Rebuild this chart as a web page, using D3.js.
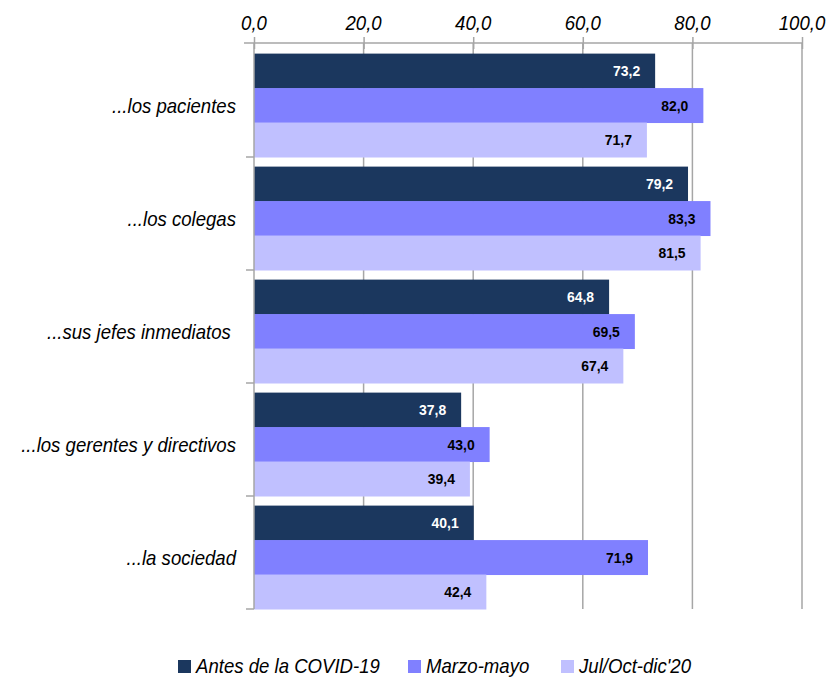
<!DOCTYPE html>
<html><head><meta charset="utf-8">
<script src="https://cdn.jsdelivr.net/npm/d3@7/dist/d3.min.js"></script>
<style>body{margin:0;background:#fff}</style>
</head><body>
<svg id="c" width="834" height="681"></svg>
<script>
const categories = ["...los pacientes","...los colegas","...sus jefes inmediatos ","...los gerentes y directivos","...la sociedad"];
const seriesNames = ["Antes de la COVID-19","Marzo-mayo","Jul/Oct-dic'20"];
const antes = [73.2,79.2,64.8,37.8,40.1];
const marzoMayo = [82.0,83.3,69.5,43.0,71.9];
const julOctDic = [71.7,81.5,67.4,39.4,42.4];
const xTicks = [0,20,40,60,80,100];
const colors = ["#1b375e","#8080ff","#c0c0ff"];
const labelColors = ["#ffffff","#000000","#000000"];
const series = [antes, marzoMayo, julOctDic];

(function(){
const font = "'Liberation Sans Narrow','Arial Narrow','Liberation Sans',Arial,sans-serif";
const svg = d3.select("#c");
const L = 254, R = 802, T = 44, B = 609;
const SX = 0.93;
const x = d3.scaleLinear().domain([0,100]).range([L,R]);
const y = d3.scaleBand().domain(categories).range([T,B]).paddingInner(0.085).paddingOuter(0.0425).align(1);
const y1 = d3.scaleBand().domain([0,1,2]).range([0,y.bandwidth()]);
const fmt = v => d3.format(".1f")(v).replace(".",",");

function txt(parent, px, py, s, opts){
  const t = parent.append("text").attr("transform",`translate(${px},${py}) scale(${SX},1)`)
    .attr("font-family",font).attr("font-size",opts.size).attr("fill",opts.fill||"#000")
    .attr("text-anchor",opts.anchor||"start").attr("dy",opts.dy||"0.36em")
    .style("white-space","pre").text(s);
  if(opts.italic) t.attr("font-style","italic");
  if(opts.bold) t.attr("font-weight","bold");
  return t;
}

svg.append("g").selectAll("line").data(xTicks.slice(1)).join("line")
  .attr("x1",d=>x(d)).attr("x2",d=>x(d)).attr("y1",T-1).attr("y2",B)
  .attr("stroke","#a6a6a6").attr("stroke-width",1.5);

const g = svg.append("g");
categories.forEach((c,i)=>{
  series.forEach((s,j)=>{
    g.append("rect").attr("x",x(0)).attr("y",y(c)+y1(j)).attr("width",x(s[i])-x(0)).attr("height",y1.bandwidth()+0.5)
      .attr("fill",colors[j]);
    txt(g, x(s[i])-15, y(c)+y1(j)+y1.bandwidth()/2, fmt(s[i]), {size:15,bold:true,anchor:"end",fill:labelColors[j]});
  });
});

const xa = svg.append("g").attr("transform",`translate(0,${T-1})`)
  .call(d3.axisTop(x).tickValues(xTicks).tickSize(6).tickFormat(fmt));
xa.select(".domain").attr("stroke","#a6a6a6").attr("stroke-width",1.5).attr("d",`M${L-10},0H${R}`);
xa.selectAll(".tick line").attr("stroke","#a6a6a6").attr("stroke-width",1.5).attr("y1",6).attr("y2",-6);
xa.selectAll(".tick text").remove();
xTicks.forEach(v=>txt(xa, x(v), -13, fmt(v), {size:20,italic:true,anchor:"middle",dy:"0"}));

const ya = svg.append("g").attr("transform",`translate(${L},0)`);
ya.append("line").attr("x1",0).attr("x2",0).attr("y1",T-1).attr("y2",B).attr("stroke","#a6a6a6").attr("stroke-width",1.5);
const bounds = categories.map(c=>y(c)+y.bandwidth());
ya.selectAll("line.t").data(bounds).join("line").attr("class","t")
  .attr("x1",-8).attr("x2",0).attr("y1",d=>d).attr("y2",d=>d).attr("stroke","#a6a6a6").attr("stroke-width",1.5);
categories.forEach(c=>txt(ya, -18, y(c)+y1(1)+y1.bandwidth()/2, c, {size:20,italic:true,anchor:"end"}));

const legX = [178,408,561];
const lg = svg.append("g");
seriesNames.forEach((n,j)=>{
  lg.append("rect").attr("x",legX[j]).attr("y",660).attr("width",13).attr("height",13).attr("fill",colors[j]);
  txt(lg, legX[j]+18, 666, n, {size:20,italic:true});
});
})();
</script>
</body></html>
